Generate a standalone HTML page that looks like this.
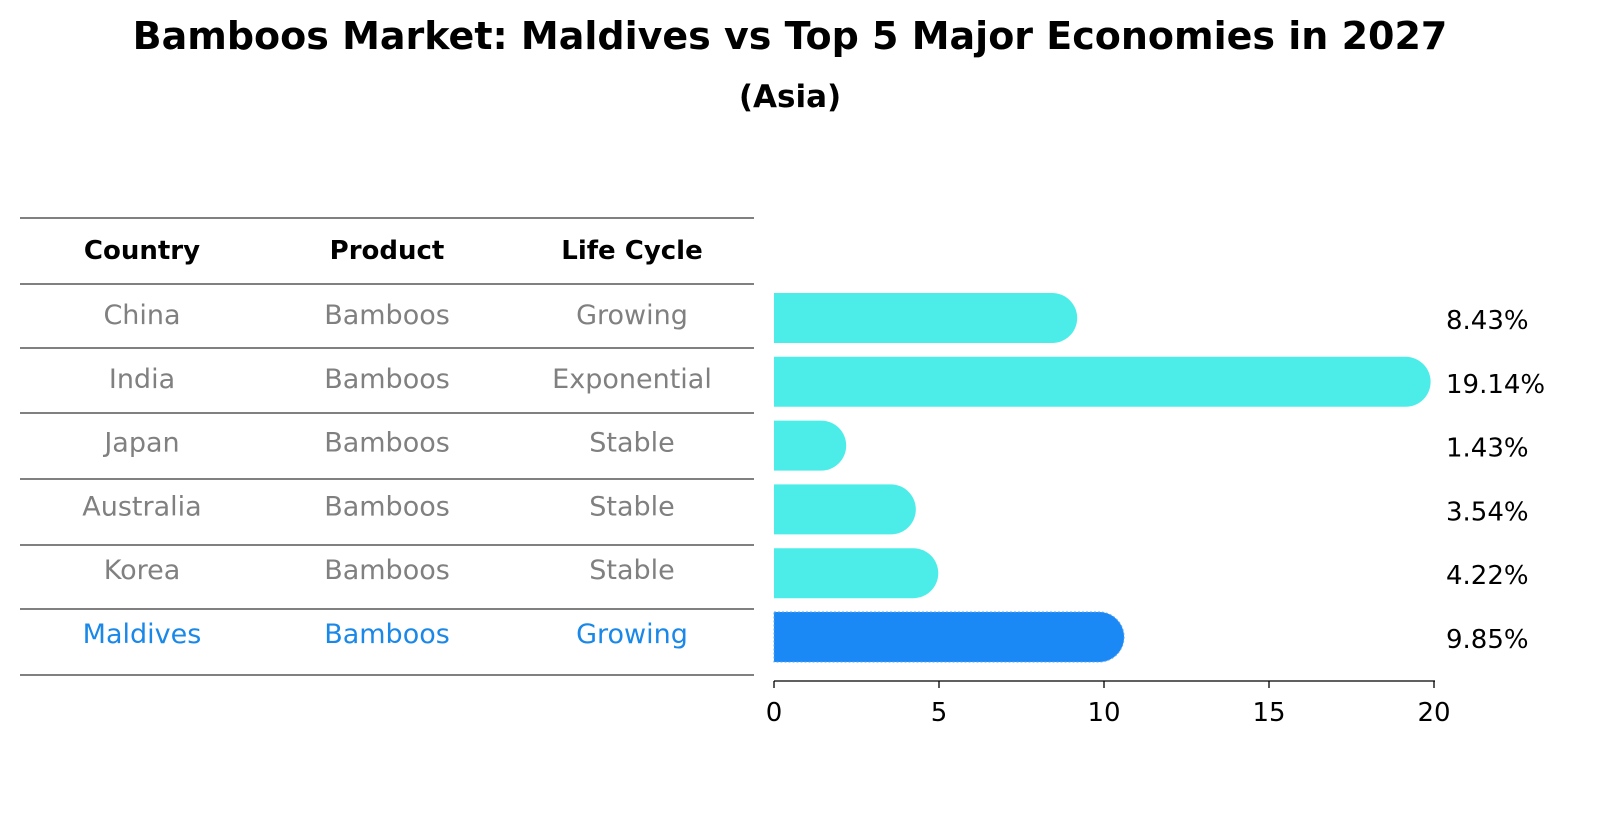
<!DOCTYPE html>
<html><head><meta charset="utf-8"><style>
body{margin:0;background:#fff;overflow:hidden;}
svg text{font-family:"DejaVu Sans","Liberation Sans",sans-serif;}
</style></head><body>
<svg width="1604" height="823">
<text x="790" y="49" text-anchor="middle" font-size="38" font-weight="bold">Bamboos Market: Maldives vs Top 5 Major Economies in 2027</text>
<text x="790" y="107" text-anchor="middle" font-size="31" font-weight="bold">(Asia)</text>
<g id="table"></g>
<g id="bars"></g>
<g id="axis"></g>
</svg>
<script>
const countries=["China","India","Japan","Australia","Korea","Maldives"];
const products=["Bamboos","Bamboos","Bamboos","Bamboos","Bamboos","Bamboos"];
const lifeCycles=["Growing","Exponential","Stable","Stable","Stable","Growing"];
const values=[8.43,19.14,1.43,3.54,4.22,9.85];
const ticks=[0,5,10,15,20];
const NS="http://www.w3.org/2000/svg";
function mk(t,a,p,txt){const e=document.createElementNS(NS,t);for(const k in a)e.setAttribute(k,a[k]);if(txt!==undefined)e.textContent=txt;p.appendChild(e);return e;}
const x=v=>774+v*33;
const rowY=i=>318+i*63.8;
const table=document.getElementById('table'),bars=document.getElementById('bars'),axis=document.getElementById('axis');
const lines=[218,284,348,413,479,545,609,675];
lines.forEach(y=>{const l=mk('line',{x1:20,x2:754,y1:y,y2:y,stroke:'#000','stroke-width':1},table);

});
const cols=[142,387,632];
["Country","Product","Life Cycle"].forEach((h,j)=>{const t=mk('text',{x:cols[j],y:259,'text-anchor':'middle','font-size':26,'font-weight':'bold'},table,h);

});
countries.forEach((c,i)=>{
 const col=c==="Maldives"?"#1a88e8":"#808080";
 [c,products[i],lifeCycles[i]].forEach((v,j)=>{const t=mk('text',{x:cols[j],y:rowY(i)+6,'text-anchor':'middle','font-size':27,fill:col},table,v);
 
 });
 const fill=c==="Maldives"?"#1a88f5":"#4cede9";
 const xe=x(values[i]),r=25,yc=rowY(i);
 const attrs={d:`M774 ${yc-r} H${xe} A${r} ${r} 0 0 1 ${xe} ${yc+r} H774 Z`,fill:fill};
 if(c==="Maldives"){attrs.stroke='#5aa8f0';attrs['stroke-dasharray']='2 2';attrs['stroke-width']=1;}
 const p=mk('path',attrs,bars);
 
 
 const t=mk('text',{x:1446,y:yc+11,'font-size':26},bars,values[i].toFixed(2)+'%');
 
 
});
mk('line',{x1:774,x2:1435,y1:681,y2:681,stroke:'#000','stroke-width':1.3},axis);
ticks.forEach(v=>{mk('line',{x1:x(v),x2:x(v),y1:681,y2:688,stroke:'#000','stroke-width':1.3},axis);
 const t=mk('text',{x:x(v),y:721,'text-anchor':'middle','font-size':26},axis,v);
 
 });
</script>
</body></html>
